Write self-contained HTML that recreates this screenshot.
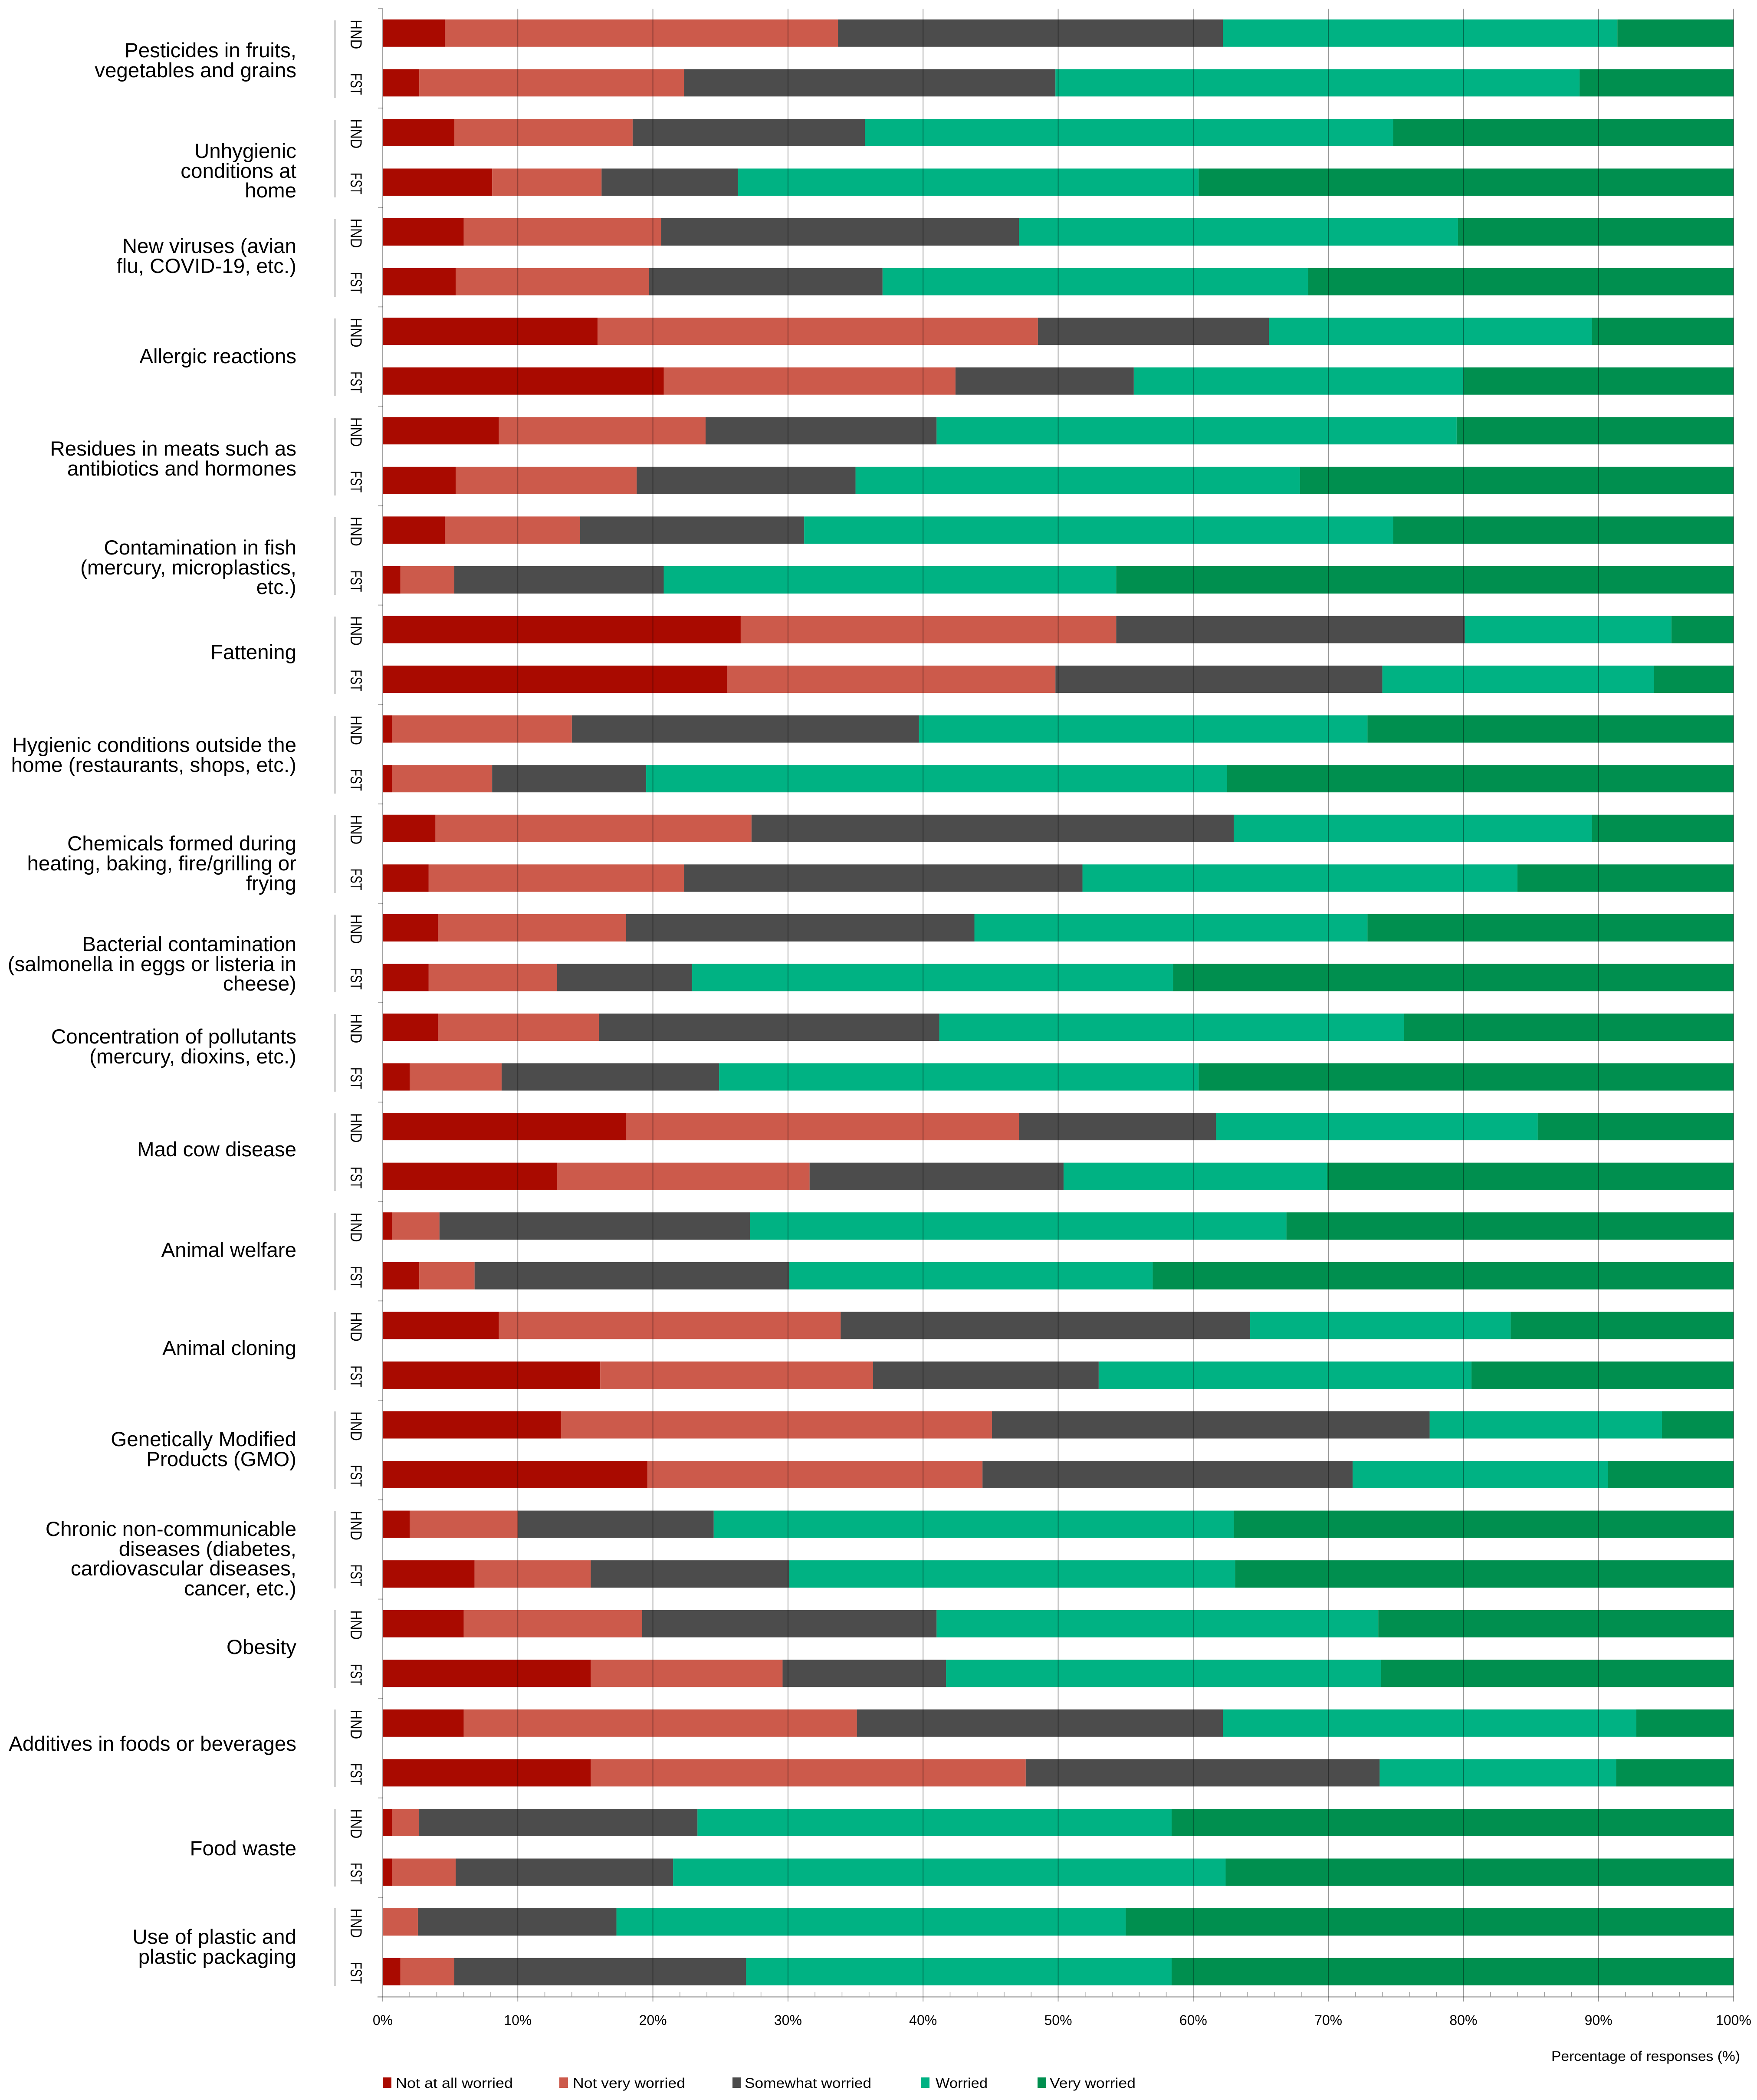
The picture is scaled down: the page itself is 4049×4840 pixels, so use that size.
<!DOCTYPE html>
<html lang="en">
<head>
<meta charset="utf-8">
<title>Food safety worries by group</title>
<style>
html,body{margin:0;padding:0;background:#fff}
svg{display:block}
text{font-family:"Liberation Sans",sans-serif;fill:#000}
.cat{font-size:47.5px;text-anchor:end}
.leg{font-size:32px}
</style>
</head>
<body>
<svg id="chart" xmlns="http://www.w3.org/2000/svg" width="4049" height="4840" viewBox="0 0 4049 4840">
<rect x="0" y="0" width="4049" height="4840" fill="#fff"/>
<g id="bars"></g>
<g id="axes"></g>
<g id="brackets"></g>
<g id="rows"></g>
<g>
<text class="cat" x="683" y="132"><tspan x="683">Pesticides in fruits,</tspan><tspan x="683" dy="46">vegetables and grains</tspan></text>
<text class="cat" x="683" y="364"><tspan x="683">Unhygienic</tspan><tspan x="683" dy="46">conditions at</tspan><tspan x="683" dy="45">home</tspan></text>
<text class="cat" x="683" y="583"><tspan x="683">New viruses (avian</tspan><tspan x="683" dy="46">flu, COVID-19, etc.)</tspan></text>
<text class="cat" x="683" y="837">Allergic reactions</text>
<text class="cat" x="683" y="1050"><tspan x="683">Residues in meats such as</tspan><tspan x="683" dy="46">antibiotics and hormones</tspan></text>
<text class="cat" x="683" y="1278"><tspan x="683">Contamination in fish</tspan><tspan x="683" dy="46">(mercury, microplastics,</tspan><tspan x="683" dy="45">etc.)</tspan></text>
<text class="cat" x="683" y="1519">Fattening</text>
<text class="cat" x="683" y="1733"><tspan x="683">Hygienic conditions outside the</tspan><tspan x="683" dy="46">home (restaurants, shops, etc.)</tspan></text>
<text class="cat" x="683" y="1960"><tspan x="683">Chemicals formed during</tspan><tspan x="683" dy="46">heating, baking, fire/grilling or</tspan><tspan x="683" dy="46">frying</tspan></text>
<text class="cat" x="683" y="2192"><tspan x="683">Bacterial contamination</tspan><tspan x="683" dy="46">(salmonella in eggs or listeria in</tspan><tspan x="683" dy="45">cheese)</tspan></text>
<text class="cat" x="683" y="2405"><tspan x="683">Concentration of pollutants</tspan><tspan x="683" dy="46">(mercury, dioxins, etc.)</tspan></text>
<text class="cat" x="683" y="2665">Mad cow disease</text>
<text class="cat" x="683" y="2897">Animal welfare</text>
<text class="cat" x="683" y="3123">Animal cloning</text>
<text class="cat" x="683" y="3333"><tspan x="683">Genetically Modified</tspan><tspan x="683" dy="46">Products (GMO)</tspan></text>
<text class="cat" x="683" y="3540"><tspan x="683">Chronic non-communicable</tspan><tspan x="683" dy="46">diseases (diabetes,</tspan><tspan x="683" dy="45">cardiovascular diseases,</tspan><tspan x="683" dy="46">cancer, etc.)</tspan></text>
<text class="cat" x="683" y="3812">Obesity</text>
<text class="cat" x="683" y="4035">Additives in foods or beverages</text>
<text class="cat" x="683" y="4276">Food waste</text>
<text class="cat" x="683" y="4480"><tspan x="683">Use of plastic and</tspan><tspan x="683" dy="46">plastic packaging</tspan></text>
</g>
<text x="3575" y="4750" font-size="32" textLength="435" lengthAdjust="spacingAndGlyphs">Percentage of responses (%)</text>
<g>
<g><rect x="882" y="4788" width="20" height="24" fill="#a90a00"/><text class="leg" x="912" y="4812" textLength="270" lengthAdjust="spacingAndGlyphs">Not at all worried</text></g>
<g><rect x="1289" y="4788" width="20" height="24" fill="#cc5a4b"/><text class="leg" x="1320" y="4812" textLength="259" lengthAdjust="spacingAndGlyphs">Not very worried</text></g>
<g><rect x="1688" y="4788" width="20" height="24" fill="#4c4c4c"/><text class="leg" x="1716" y="4812" textLength="292" lengthAdjust="spacingAndGlyphs">Somewhat worried</text></g>
<g><rect x="2122" y="4788" width="20" height="24" fill="#00b283"/><text class="leg" x="2156" y="4812" textLength="120" lengthAdjust="spacingAndGlyphs">Worried</text></g>
<g><rect x="2391" y="4788" width="20" height="24" fill="#008f4f"/><text class="leg" x="2419" y="4812" textLength="198" lengthAdjust="spacingAndGlyphs">Very worried</text></g>
</g>
</svg>
<script>
const categoryKeys = ['pesticides','unhygienic-home','new-viruses','allergic-reactions','meat-residues','fish-contamination','fattening','hygiene-outside-home','heating-chemicals','bacterial-contamination','pollutants','mad-cow','animal-welfare','animal-cloning','gmo','chronic-diseases','obesity','additives','food-waste','plastic-packaging'];
const respondentGroups = ['HND','FST'];
const xTickValues = [0,10,20,30,40,50,60,70,80,90,100];
const xTickLabels = ['0%','10%','20%','30%','40%','50%','60%','70%','80%','90%','100%'];
// Each series alternates HND, FST for each category, in %.
const notAtAllWorried = [4.6,2.7,5.3,8.1,6.0,5.4,15.9,20.8,8.6,5.4,4.6,1.3,26.5,25.5,0.7,0.7,3.9,3.4,4.1,3.4,4.1,2.0,18.0,12.9,0.7,2.7,8.6,16.1,13.2,19.6,2.0,6.8,6.0,15.4,6.0,15.4,0.7,0.7,0,1.3];
const notVeryWorried = [29.1,19.6,13.2,8.1,14.6,14.3,32.6,21.6,15.3,13.4,10.0,4.0,27.8,24.3,13.3,7.4,23.4,18.9,13.9,9.5,11.9,6.8,29.1,18.7,3.5,4.1,25.3,20.2,31.9,24.8,8.0,8.6,13.2,14.2,29.1,32.2,2.0,4.7,2.6,4.0];
const somewhatWorried = [28.5,27.5,17.2,10.1,26.5,17.3,17.1,13.2,17.1,16.2,16.6,15.5,25.8,24.2,25.7,11.4,35.7,29.5,25.8,10.0,25.2,16.1,14.6,18.8,23.0,23.3,30.3,16.7,32.4,27.4,14.5,14.7,21.8,12.1,27.1,26.2,20.6,16.1,14.7,21.6];
const worried = [29.2,38.8,39.1,34.1,32.5,31.5,23.9,24.4,38.5,32.9,43.6,33.5,15.3,20.1,33.2,43.0,26.5,32.2,29.1,35.6,34.4,35.5,23.8,19.5,39.7,26.9,19.3,27.6,17.2,18.9,38.5,33.0,32.7,32.2,30.6,17.5,35.1,40.9,37.7,31.5];
const veryWorried = [8.6,11.4,25.2,39.6,20.4,31.5,10.5,20.0,20.5,32.1,25.2,45.7,4.6,5.9,27.1,37.5,10.5,16.0,27.1,41.5,24.4,39.6,14.5,30.1,33.1,43.0,16.5,19.4,5.3,9.3,37.0,36.9,26.3,26.1,7.2,8.7,41.6,37.6,45.0,41.6];

const seriesList = [notAtAllWorried, notVeryWorried, somewhatWorried, worried, veryWorried];
const seriesKeys = ['not-at-all-worried','not-very-worried','somewhat-worried','worried','very-worried'];
const seriesColors = ['#a90a00','#cc5a4b','#4c4c4c','#00b283','#008f4f'];

const NS = 'http://www.w3.org/2000/svg';
const X0 = 882, X100 = 3995;
const AXIS_TOP = 20, AXIS_Y = 4602;
const ROW_STEP = 114.56, ROW_START = 19, BAR_H = 63;
function xScale(v){ return X0 + (v / 100) * (X100 - X0); }
function rowCenter(i){ return ROW_START + ROW_STEP * (i + 0.5); }
function make(tag, attrs, parent){
  const el = document.createElementNS(NS, tag);
  for (const k in attrs) el.setAttribute(k, attrs[k]);
  parent.appendChild(el);
  return el;
}

const barsG = document.getElementById('bars');
const axesG = document.getElementById('axes');
const bracketsG = document.getElementById('brackets');
const rowsG = document.getElementById('rows');

// Bars
const rowCount = categoryKeys.length * respondentGroups.length;
for (let i = 0; i < rowCount; i++) {
  let cum = 0;
  const cat = categoryKeys[Math.floor(i / respondentGroups.length)];
  const grp = respondentGroups[i % respondentGroups.length].toLowerCase();
  for (let s = 0; s < seriesList.length; s++) {
    const v = seriesList[s][i];
    const x1 = xScale(cum), x2 = xScale(cum + v);
    cum += v;
    const r = make('rect', {x:x1, y:rowCenter(i) - BAR_H / 2, width:Math.max(0, x2 - x1), height:BAR_H, fill:seriesColors[s]}, barsG);
    
    
  }
}

// Row labels
for (let i = 0; i < rowCount; i++) {
  const t = make('text', {transform:'translate(808,' + (rowCenter(i) + 3) + ') rotate(90)', 'text-anchor':'middle', 'font-size':37}, rowsG);
  
  
  const label = respondentGroups[i % respondentGroups.length];
  t.setAttribute('textLength', label === 'HND' ? 68 : 50);
  t.setAttribute('lengthAdjust', 'spacingAndGlyphs');
  t.textContent = label;
}

// Group brackets and y-axis group ticks
for (let g = 0; g < categoryKeys.length; g++) {
  const top = 47 + 229 * g;
  const b = make('line', {x1:772, x2:772, y1:top, y2:top + 179, stroke:'#444', 'stroke-width':1.6}, bracketsG);
  
  
}
for (let g = 0; g <= categoryKeys.length; g++) {
  const y = AXIS_TOP + (AXIS_Y - AXIS_TOP) * g / categoryKeys.length;
  const t = make('line', {x1:871, x2:882, y1:y, y2:y, stroke:'#aaa', 'stroke-width':2}, axesG);
  
  
}

// Axis line
const axisLine = make('line', {x1:870, x2:X100, y1:AXIS_Y, y2:AXIS_Y, stroke:'#bbb', 'stroke-width':3.5}, axesG);



// Minor ticks
for (let m = 2; m < 100; m += 2) {
  if (m % 10 === 0) continue;
  const t = make('line', {x1:xScale(m), x2:xScale(m), y1:AXIS_Y - 11, y2:AXIS_Y, stroke:'#999', 'stroke-width':1.5}, axesG);
  
  
}

// Gridlines drawn over the bars and major tick labels
for (let k = 0; k < xTickValues.length; k++) {
  const x = xScale(xTickValues[k]);
  const line = make('line', {x1:x, x2:x, y1:AXIS_TOP, y2:4613, stroke:'rgba(0,0,0,0.42)', 'stroke-width':1.8}, axesG);
  
  
  const label = make('text', {x:x, y:4667, 'text-anchor':'middle', 'font-size':32}, axesG);
  
  
  label.textContent = xTickLabels[k];
}
</script>
</body>
</html>
